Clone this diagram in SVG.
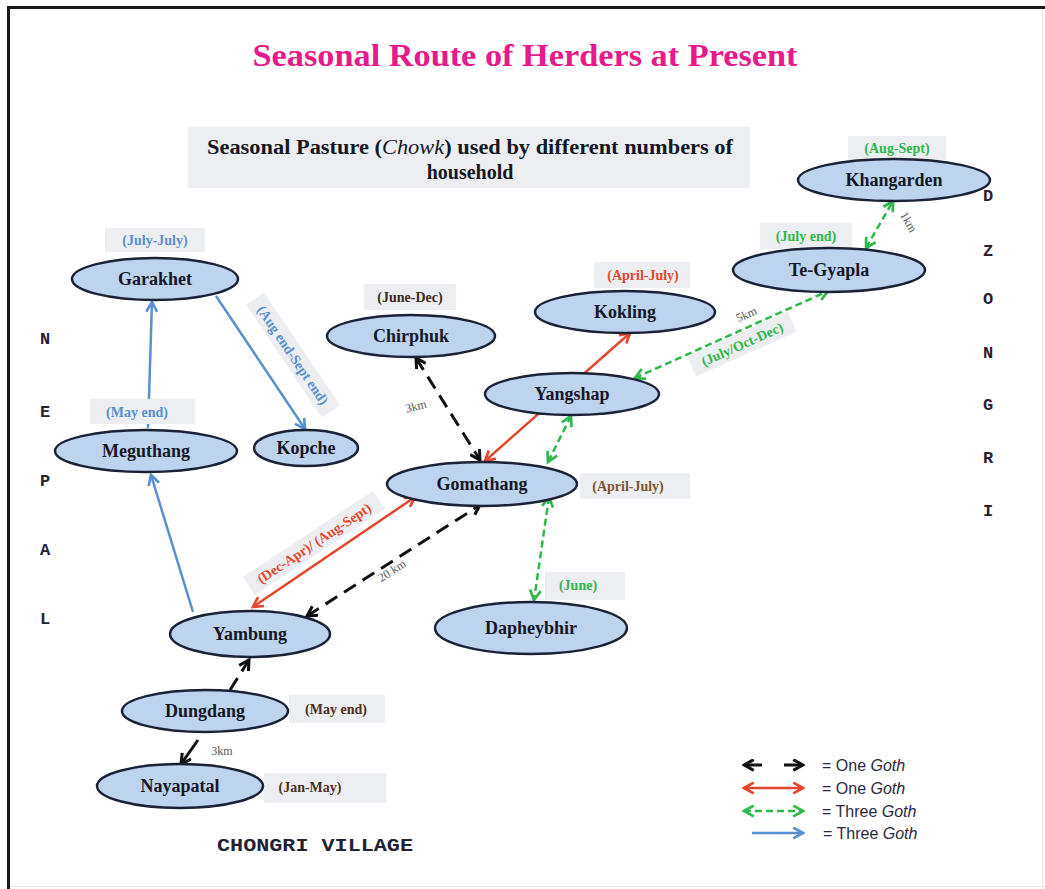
<svg xmlns="http://www.w3.org/2000/svg" width="1045" height="889" viewBox="0 0 1045 889">
<style>
.node{fill:#bdd3ee;stroke:#1b2235;stroke-width:2.5}
.nl{font-family:"Liberation Serif",serif;font-weight:bold;font-size:18px;fill:#141824;text-anchor:middle}
.dl{font-family:"Liberation Serif",serif;font-weight:bold;font-size:14px;text-anchor:middle}
.bg{fill:#eceef1}
.km{font-family:"Liberation Serif",serif;font-size:12px;fill:#555;text-anchor:middle}
.blk{stroke:#111;stroke-width:3;stroke-dasharray:14 8;fill:none}
.red{stroke:#e5472e;stroke-width:2.5;fill:none}
.grn{stroke:#2fb84c;stroke-width:2.5;stroke-dasharray:7 4;fill:none}
.blu{stroke:#5a8fd0;stroke-width:2.5;fill:none}
.side{font-family:"Liberation Mono",monospace;font-weight:bold;font-size:17px;fill:#2a2030;text-anchor:middle}
.lg{font-family:"Liberation Sans",sans-serif;font-size:16px;fill:#2a2a40}
.hd{font-family:"Liberation Serif",serif;font-weight:bold;font-size:20px;fill:#141824;text-anchor:middle}
</style>
<defs>
<marker id="ak" viewBox="0 0 12 12" markerUnits="userSpaceOnUse" markerWidth="13" markerHeight="13" refX="10" refY="6" orient="auto-start-reverse"><path d="M1,1 L10,6 L1,11" fill="none" stroke="#111" stroke-width="2.8" stroke-dasharray="none"/></marker>
<marker id="ar" viewBox="0 0 12 12" markerUnits="userSpaceOnUse" markerWidth="13" markerHeight="13" refX="10" refY="6" orient="auto-start-reverse"><path d="M1,1 L10,6 L1,11" fill="none" stroke="#e5472e" stroke-width="2.5" stroke-dasharray="none"/></marker>
<marker id="ag" viewBox="0 0 12 12" markerUnits="userSpaceOnUse" markerWidth="13" markerHeight="13" refX="10" refY="6" orient="auto-start-reverse"><path d="M1,1 L10,6 L1,11" fill="none" stroke="#2fb84c" stroke-width="2.5" stroke-dasharray="none"/></marker>
<marker id="ab" viewBox="0 0 12 12" markerUnits="userSpaceOnUse" markerWidth="13" markerHeight="13" refX="10" refY="6" orient="auto-start-reverse"><path d="M1,1 L10,6 L1,11" fill="none" stroke="#5a8fd0" stroke-width="2.5" stroke-dasharray="none"/></marker>
</defs>
<rect width="1045" height="889" fill="#fff"/>
<line x1="7" y1="7.5" x2="1045" y2="7.5" stroke="#1c1c1c" stroke-width="3"/>
<line x1="8.5" y1="6" x2="8.5" y2="889" stroke="#1c1c1c" stroke-width="3"/>
<line x1="1042.5" y1="9" x2="1042.5" y2="889" stroke="#e4e4e4" stroke-width="1"/>
<line x1="10" y1="886.5" x2="1045" y2="886.5" stroke="#e8e8e8" stroke-width="1"/>

<text x="525" y="66" font-family="Liberation Serif,serif" font-weight="bold" font-size="31" fill="#e8198b" text-anchor="middle" textLength="545" lengthAdjust="spacingAndGlyphs">Seasonal Route of Herders at Present</text>

<g id="header">
<rect x="188" y="127" width="562" height="61" class="bg"/>
<text class="hd" x="470" y="154" textLength="526" lengthAdjust="spacingAndGlyphs">Seasonal Pasture (<tspan font-style="italic" font-weight="normal">Chowk</tspan>) used by different numbers of</text>
<text class="hd" x="470" y="179">household</text>
</g>

<g id="nepal">
<text class="side" x="45" y="344">N</text>
<text class="side" x="45" y="417">E</text>
<text class="side" x="45" y="486">P</text>
<text class="side" x="45" y="555">A</text>
<text class="side" x="45" y="624">L</text>
</g>
<g id="dzongri">
<text class="side" x="988" y="201">D</text>
<text class="side" x="988" y="256">Z</text>
<text class="side" x="988" y="304">O</text>
<text class="side" x="988" y="358">N</text>
<text class="side" x="988" y="410">G</text>
<text class="side" x="988" y="463">R</text>
<text class="side" x="988" y="516">I</text>
</g>

<g id="connectors">
<line class="blu" x1="148" y1="428" x2="152" y2="302" marker-end="url(#ab)"/>
<line class="blu" x1="216" y1="296" x2="305" y2="429" marker-end="url(#ab)"/>
<line class="blu" x1="193" y1="612" x2="151" y2="475" marker-end="url(#ab)"/>
<line class="blk" x1="416" y1="358" x2="480" y2="460" marker-start="url(#ak)" marker-end="url(#ak)"/>
<line class="red" x1="485" y1="461" x2="630" y2="333" marker-start="url(#ar)" marker-end="url(#ar)"/>
<line class="grn" x1="571" y1="416" x2="548" y2="462" marker-start="url(#ag)" marker-end="url(#ag)"/>
<line class="grn" x1="635" y1="378" x2="828" y2="291" marker-start="url(#ag)" marker-end="url(#ag)"/>
<line class="grn" x1="866" y1="248" x2="893" y2="201" marker-start="url(#ag)" marker-end="url(#ag)"/>
<line class="grn" x1="549" y1="497" x2="534" y2="600" marker-start="url(#ag)" marker-end="url(#ag)"/>
<line class="red" x1="253" y1="607" x2="415" y2="497" marker-start="url(#ar)" marker-end="url(#ar)"/>
<line class="blk" x1="307" y1="616" x2="480" y2="505" marker-start="url(#ak)" marker-end="url(#ak)"/>
<line class="blk" x1="230" y1="690" x2="249" y2="660" marker-end="url(#ak)"/>
<line class="blk" x1="198" y1="740" x2="181" y2="764" style="stroke-dasharray:none" marker-end="url(#ak)"/>
</g>

<g id="edge-labels">
<g transform="translate(293,355) rotate(56)"><rect x="-68" y="-11" width="136" height="22" class="bg"/><text class="dl" y="5" fill="#5a8fd0">(Aug end-Sept end)</text></g>
<g transform="translate(742,344) rotate(-24)"><rect x="-55" y="-11" width="110" height="22" class="bg"/><text class="dl" y="5" fill="#2fb84c">(July/Oct-Dec)</text></g>
<g transform="translate(314,543) rotate(-33.5)"><rect x="-78" y="-11" width="156" height="22" class="bg"/><text class="dl" y="5" fill="#e5472e">(Dec-Apr)/ (Aug-Sept)</text></g>
<text class="km" transform="translate(748,318) rotate(-24)">5km</text>
<text class="km" transform="translate(905,224) rotate(60)">1km</text>
<text class="km" transform="translate(417,410) rotate(-15)">3km</text>
<text class="km" transform="translate(394,574) rotate(-33)" font-size="13">20 km</text>
<text class="km" x="222" y="755">3km</text>
</g>

<g id="garakhet">
<rect x="105" y="228" width="100" height="24" class="bg"/>
<text class="dl" x="155" y="245" fill="#5a8fd0">(July-July)</text>
<ellipse class="node" cx="155" cy="279" rx="83" ry="21"/>
<text class="nl" x="155" y="285">Garakhet</text>
</g>
<g id="meguthang">
<rect x="90" y="399" width="105" height="25" class="bg"/>
<text class="dl" x="137" y="417" fill="#5a8fd0">(May end)</text>
<ellipse class="node" cx="146" cy="451" rx="91" ry="21"/>
<text class="nl" x="146" y="457">Meguthang</text>
</g>
<g id="kopche">
<ellipse class="node" cx="306" cy="448" rx="52" ry="18"/>
<text class="nl" x="306" y="454">Kopche</text>
</g>
<g id="chirphuk">
<rect x="364" y="284" width="92" height="26" class="bg"/>
<text class="dl" x="410" y="302" fill="#3a2a1a">(June-Dec)</text>
<ellipse class="node" cx="411" cy="336" rx="84" ry="21"/>
<text class="nl" x="411" y="342">Chirphuk</text>
</g>
<g id="kokling">
<rect x="594" y="262" width="96" height="26" class="bg"/>
<text class="dl" x="643" y="280" fill="#e5472e">(April-July)</text>
<ellipse class="node" cx="625" cy="312" rx="90" ry="21"/>
<text class="nl" x="625" y="318">Kokling</text>
</g>
<g id="yangshap">
<ellipse class="node" cx="572" cy="394" rx="87" ry="21"/>
<text class="nl" x="572" y="400">Yangshap</text>
</g>
<g id="gomathang">
<rect x="580" y="473" width="110" height="26" class="bg"/>
<text class="dl" x="628" y="491" fill="#7a5530">(April-July)</text>
<ellipse class="node" cx="482" cy="484" rx="95" ry="22"/>
<text class="nl" x="482" y="490">Gomathang</text>
</g>
<g id="khangarden">
<rect x="848" y="136" width="98" height="24" class="bg"/>
<text class="dl" x="897" y="153" fill="#2fb84c">(Aug-Sept)</text>
<ellipse class="node" cx="894" cy="180" rx="96" ry="21"/>
<text class="nl" x="894" y="186">Khangarden</text>
</g>
<g id="te-gyapla">
<rect x="760" y="223" width="92" height="26" class="bg"/>
<text class="dl" x="806" y="241" fill="#2fb84c">(July end)</text>
<ellipse class="node" cx="829" cy="270" rx="96" ry="22"/>
<text class="nl" x="829" y="276">Te-Gyapla</text>
</g>
<g id="yambung">
<ellipse class="node" cx="250" cy="634" rx="80" ry="23"/>
<text class="nl" x="250" y="640">Yambung</text>
</g>
<g id="dapheybhir">
<rect x="545" y="572" width="80" height="28" class="bg"/>
<text class="dl" x="578" y="590" fill="#2fb84c">(June)</text>
<ellipse class="node" cx="531" cy="628" rx="96" ry="26"/>
<text class="nl" x="531" y="634">Dapheybhir</text>
</g>
<g id="dungdang">
<rect x="289" y="695" width="96" height="28" class="bg"/>
<text class="dl" x="336" y="714" fill="#4a3020">(May end)</text>
<ellipse class="node" cx="205" cy="711" rx="83" ry="21"/>
<text class="nl" x="205" y="717">Dungdang</text>
</g>
<g id="nayapatal">
<rect x="264" y="773" width="122" height="30" class="bg"/>
<text class="dl" x="310" y="792" fill="#4a3020">(Jan-May)</text>
<ellipse class="node" cx="180" cy="786" rx="83" ry="22"/>
<text class="nl" x="180" y="792">Nayapatal</text>
</g>

<text x="315" y="851" font-family="Liberation Mono,monospace" font-weight="bold" font-size="18" fill="#222236" text-anchor="middle" textLength="196" lengthAdjust="spacingAndGlyphs">CHONGRI VILLAGE</text>

<g id="legend">
<line class="blk" x1="744" y1="765" x2="803" y2="765" style="stroke-dasharray:18 22" marker-start="url(#ak)" marker-end="url(#ak)"/>
<line class="red" x1="744" y1="788" x2="803" y2="788" marker-start="url(#ar)" marker-end="url(#ar)"/>
<line class="grn" x1="744" y1="811" x2="803" y2="811" marker-start="url(#ag)" marker-end="url(#ag)"/>
<line class="blu" x1="752" y1="833" x2="803" y2="833" marker-end="url(#ab)"/>
<text class="lg" x="822" y="771">= One <tspan font-style="italic">Goth</tspan></text>
<text class="lg" x="822" y="794">= One <tspan font-style="italic">Goth</tspan></text>
<text class="lg" x="822" y="817">= Three <tspan font-style="italic">Goth</tspan></text>
<text class="lg" x="823" y="839">= Three <tspan font-style="italic">Goth</tspan></text>
</g>
</svg>
